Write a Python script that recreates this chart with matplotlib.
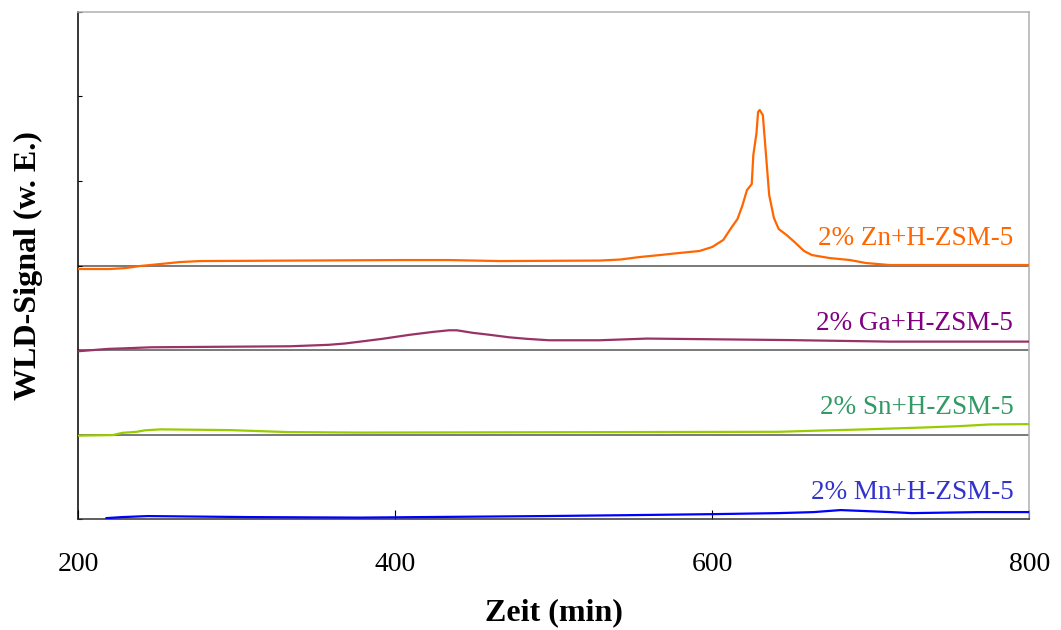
import matplotlib
matplotlib.use("Agg")
import matplotlib.pyplot as plt

# signal traces (arbitrary units, relative to each baseline)
zn_x = [200, 220, 230, 239, 252, 264, 277, 403, 434, 466, 529, 542, 554, 567, 579, 592,
        600, 607, 612, 616, 619, 622, 625, 626, 628, 629, 630, 632, 633, 634, 636, 639,
        642, 647, 652, 658, 663, 674, 687, 697, 712, 800]
zn_y = [-0.041, -0.041, -0.03, -0.006, 0.018, 0.041, 0.053, 0.065, 0.065, 0.053, 0.059, 0.071,
        0.10, 0.124, 0.148, 0.172, 0.219, 0.302, 0.444, 0.55, 0.704, 0.893, 0.964, 1.308,
        1.568, 1.817, 1.84, 1.78, 1.544, 1.308, 0.834, 0.562, 0.432, 0.361, 0.278, 0.172,
        0.124, 0.089, 0.065, 0.03, 0.006, 0.006]

ga_x = [200, 219, 230, 246, 334, 358, 368, 378, 392, 409, 424, 434, 439, 449, 460, 472,
        483, 497, 529, 559, 649, 712, 800]
ga_y = [-0.014, 0.014, 0.021, 0.033, 0.045, 0.062, 0.077, 0.10, 0.133, 0.18, 0.215, 0.234,
        0.234, 0.204, 0.18, 0.151, 0.133, 0.116, 0.116, 0.136, 0.118, 0.10, 0.10]

sn_x = [200, 222, 228, 237, 242, 252, 296, 332, 378, 642, 663, 697, 735, 756, 775, 800]
sn_y = [-0.012, -0.006, 0.021, 0.033, 0.05, 0.062, 0.053, 0.03, 0.024, 0.033, 0.045,
        0.062, 0.085, 0.10, 0.12, 0.124]

mn_x = [218, 228, 244, 308, 378, 494, 548, 601, 642, 664, 681, 713, 726, 768, 800]
mn_y = [0.012, 0.024, 0.036, 0.024, 0.018, 0.036, 0.047, 0.059, 0.071, 0.083, 0.107,
        0.083, 0.071, 0.083, 0.083]

labels = ["2% Zn+H-ZSM-5", "2% Ga+H-ZSM-5", "2% Sn+H-ZSM-5", "2% Mn+H-ZSM-5"]
offsets = [3, 2, 1, 0]
line_colors = ["#FF6600", "#993366", "#99CC00", "#0000FF"]
text_colors = ["#FF6600", "#800080", "#339966", "#3333CC"]

plt.rcParams["font.family"] = ["Liberation Serif", "DejaVu Serif"]

fig = plt.figure(figsize=(10.61, 6.30), dpi=100)
ax = fig.add_axes([0.0735, 0.176, 0.8965, 0.805])

for off in [1, 2, 3]:
    ax.axhline(off, color="#555555", lw=1.1, zorder=1)

traces = [(zn_x, zn_y), (ga_x, ga_y), (sn_x, sn_y), (mn_x, mn_y)]
for (xs, ys), off, lc, tc, lab in zip(traces, offsets, line_colors, text_colors, labels):
    ax.plot(xs, [v + off for v in ys], color=lc, lw=1.6, zorder=3)
    ax.text(790, off + 0.32, lab, color=tc, fontsize=19.5, ha="right", va="center")

ax.set_xlim(200, 800)
ax.set_ylim(0, 6)
ax.set_xticks([200, 400, 600, 800])
ax.set_yticks(range(7))
ax.set_yticklabels([])
ax.tick_params(axis="x", direction="in", length=6.5, width=0.8, pad=24, labelsize=20)
ax.tick_params(axis="y", direction="in", length=3, width=0.8)

ax.spines["top"].set_color("#b0b0b0")
ax.spines["right"].set_color("#b0b0b0")
ax.spines["left"].set_color("black")
ax.spines["bottom"].set_color("#333333")
for s in ax.spines.values():
    s.set_linewidth(1.1)

ax.set_xlabel("Zeit (min)", fontsize=23, fontweight="bold")
ax.xaxis.set_label_coords(0.5, -0.155)
ax.set_ylabel("WLD-Signal (w. E.)", fontsize=23, fontweight="bold")
ax.yaxis.set_label_coords(-0.037, 0.50)

fig.savefig("out.png", dpi=100)
